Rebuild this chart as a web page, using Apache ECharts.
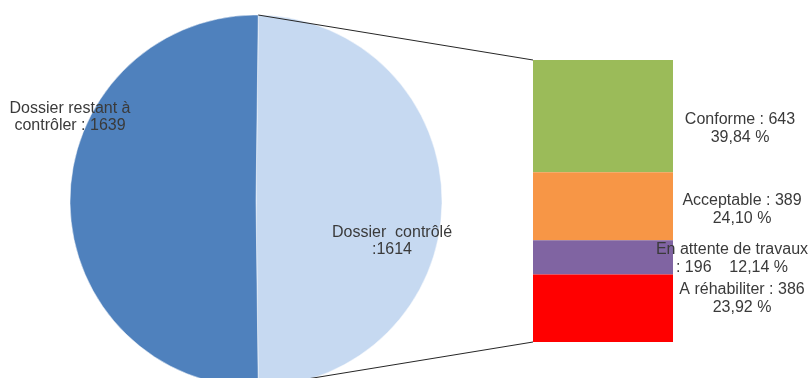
<!DOCTYPE html>
<html><head><meta charset="utf-8">
<script src="https://cdn.jsdelivr.net/npm/echarts@6/dist/echarts.min.js"></script>
<style>html,body{margin:0;padding:0;background:#fff}#c{width:812px;height:378px}</style>
</head><body><div id="c"></div>
<script>
// ---- data ----
const pieNames = ['Dossier contrôlé', 'Dossier restant à contrôler'];
const pieValues = [1614, 1639];
const pieLabelTexts = ['Dossier  contrôlé\n:{v}', 'Dossier restant à\ncontrôler : {v}'];
const barNames = ['Conforme', 'Acceptable', 'En attente de travaux', 'A réhabiliter'];
const barValues = [643, 389, 196, 386];
const barLabelTexts = ['{n} : {v}\n{p} %', '{n} : {v}\n{p} %', '{n}\n: {v}    {p} %', '{n} : {v}\n{p} %'];

// ---- style ----
const pieColors = ['#C6D9F1', '#4F81BD'];
const barColors = ['#9BBB59', '#F79646', '#8064A2', '#FF0000'];
const pieLabelOffsets = [[40, 40], [-90, -84]];
const barLabelOffsets = [[0, 12], [2, 3], [-8, 1], [2, -10]];
const pieCenter = [256, 201];
const pieRadius = 186;
const font = 'Liberation Sans';
const textColor = '#3a3a3a';

const pieTotal = pieValues.reduce((a, b) => a + b, 0);
const barTotal = barValues.reduce((a, b) => a + b, 0);
const focusSpan = 360 * pieValues[0] / pieTotal;
const startAngle = 90 - (180 - focusSpan) / 2;

const chart = echarts.init(document.getElementById('c'), null, {renderer: 'canvas'});

const series = [{
  type: 'pie',
  center: pieCenter,
  radius: pieRadius,
  startAngle: startAngle,
  clockwise: true,
  animation: false,
  silent: true,
  itemStyle: {borderColor: '#ffffff', borderWidth: 0.5},
  label: {
    show: true, position: 'inside', color: textColor,
    fontFamily: font, fontSize: 16, lineHeight: 17, align: 'center',
    formatter: p => pieLabelTexts[p.dataIndex].replace('{v}', p.value)
  },
  labelLine: {show: false},
  data: pieNames.map((n, i) => ({
    name: n, value: pieValues[i],
    itemStyle: {color: pieColors[i]},
    label: {offset: pieLabelOffsets[i]}
  }))
}];

barNames.forEach((n, i) => {
  series.push({
    type: 'bar',
    name: n,
    stack: 'detail',
    xAxisIndex: 0, yAxisIndex: 0,
    barWidth: '100%',
    animation: false,
    silent: true,
    itemStyle: {color: barColors[i]},
    label: {
      show: true, position: 'right', distance: 67, align: 'center',
      offset: barLabelOffsets[i],
      color: textColor, fontFamily: font, fontSize: 16, lineHeight: 18,
      formatter: p => barLabelTexts[i]
        .replace('{n}', n)
        .replace('{v}', p.value)
        .replace('{p}', (p.value / barTotal * 100).toFixed(2).replace('.', ','))
    },
    data: [barValues[i]]
  });
});

chart.setOption({
  backgroundColor: '#ffffff',
  animation: false,
  grid: {left: 533, top: 60, width: 140, height: 282},
  xAxis: {type: 'category', data: ['détail'], show: false, boundaryGap: true},
  yAxis: {type: 'value', min: 0, max: barTotal, inverse: true, show: false},
  series: series
});

// connector lines: from the pie's focus slice edges to the bar's corners
const topLeft = chart.convertToPixel({xAxisIndex: 0, yAxisIndex: 0}, [0, 0]);
const botLeft = chart.convertToPixel({xAxisIndex: 0, yAxisIndex: 0}, [0, barTotal]);
const bandW = chart.getModel().getComponent('xAxis', 0).axis.getBandWidth();
const barLeft = topLeft[0] - bandW / 2;
function piePoint(angleDeg) {
  const a = angleDeg * Math.PI / 180;
  return [pieCenter[0] + pieRadius * Math.cos(a), pieCenter[1] - pieRadius * Math.sin(a)];
}
const pTop = piePoint(startAngle);
const pBot = piePoint(startAngle - focusSpan);
chart.setOption({
  graphic: [
    {type: 'line', silent: true, z: 10, shape: {x1: pTop[0], y1: pTop[1], x2: barLeft, y2: topLeft[1]},
     style: {stroke: '#262626', lineWidth: 1}},
    {type: 'line', silent: true, z: 10, shape: {x1: pBot[0], y1: pBot[1], x2: barLeft, y2: botLeft[1]},
     style: {stroke: '#262626', lineWidth: 1}}
  ]
});
</script>
</body></html>
